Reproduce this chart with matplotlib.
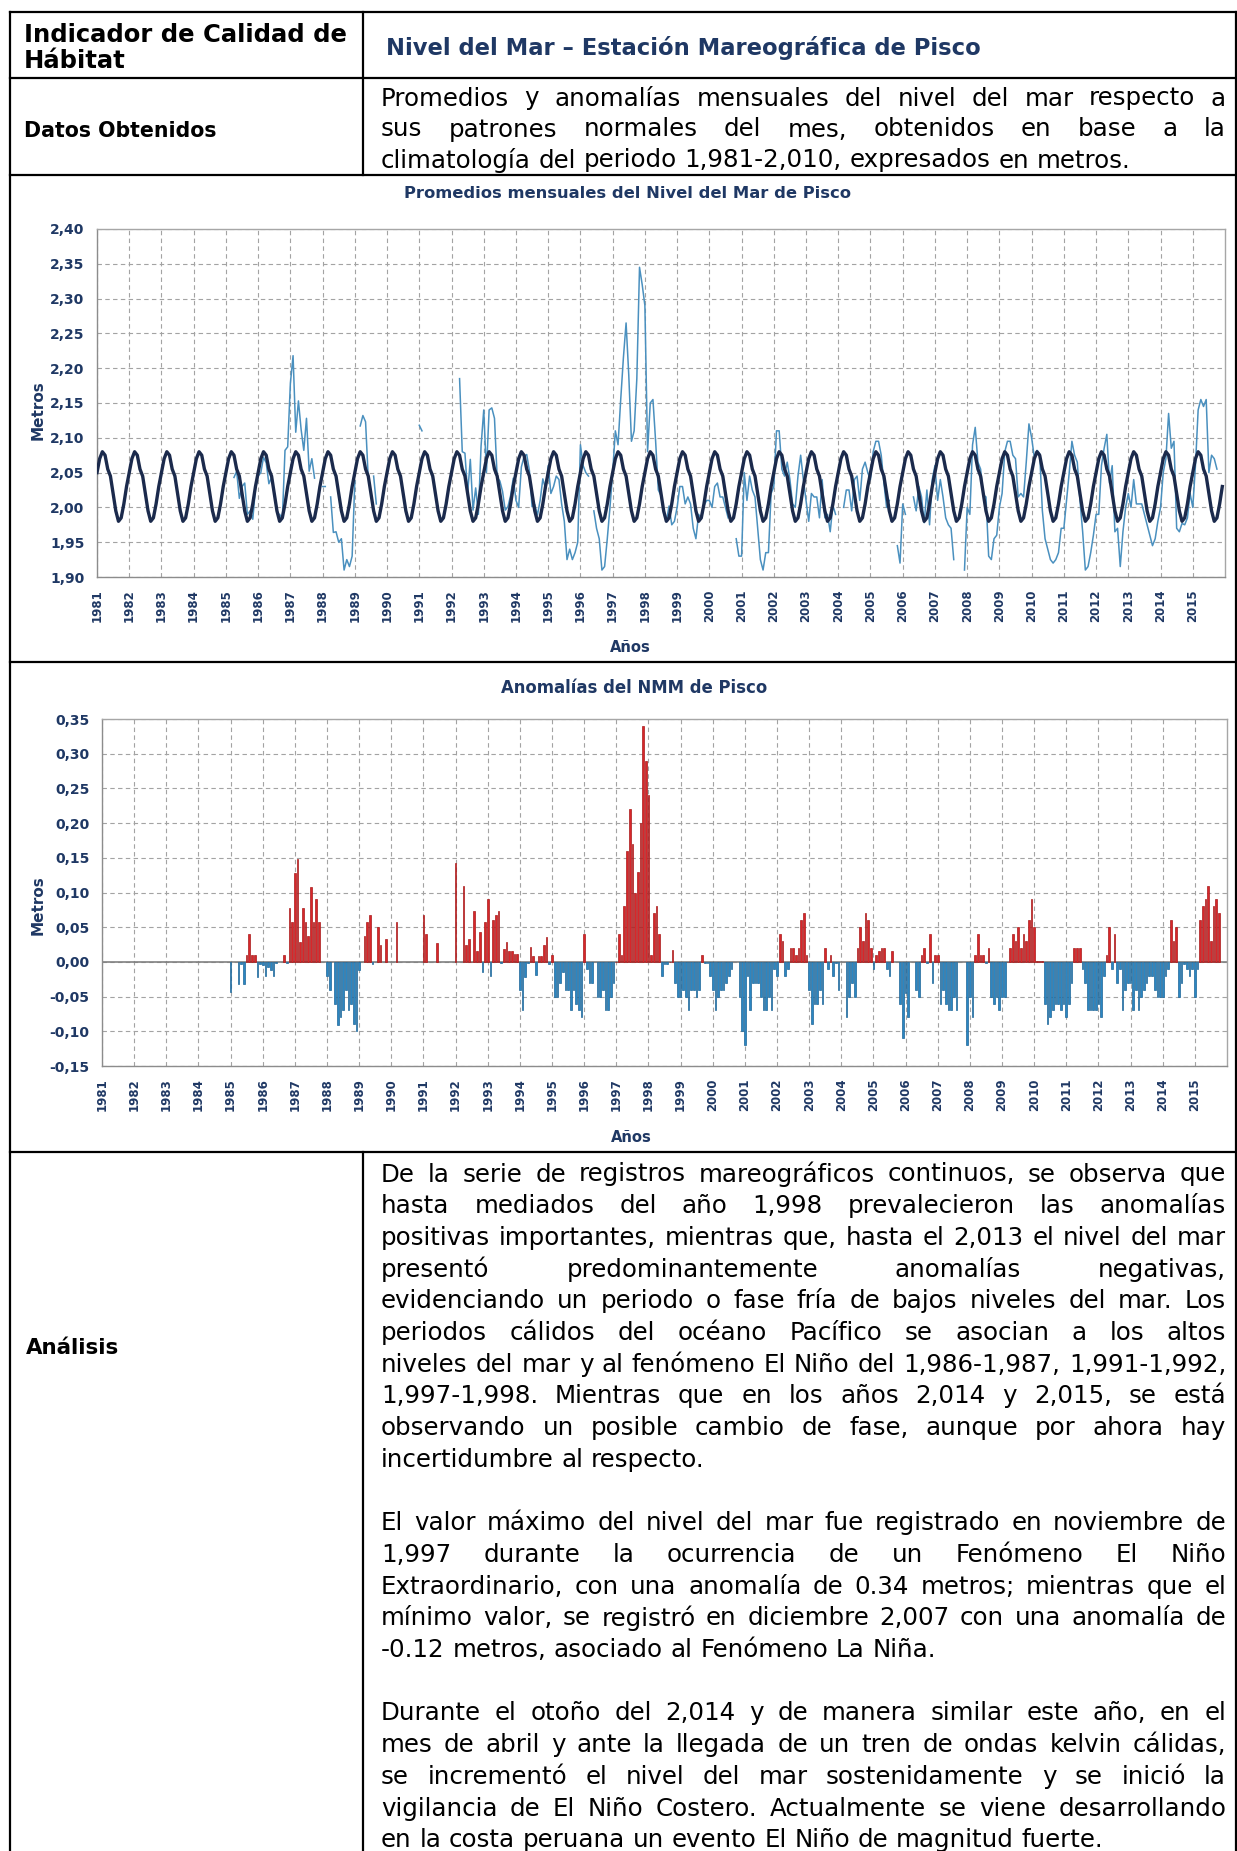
import numpy as np
import matplotlib
matplotlib.use("Agg")
import matplotlib.pyplot as plt
from matplotlib.lines import Line2D
from matplotlib.ticker import FixedLocator, FuncFormatter

nan = float("nan")

# ---------------- data ----------------
years = list(range(1981, 2016))
year_labels = [str(y) for y in years]
clim_monthly = [2.050, 2.070, 2.080, 2.075, 2.055, 2.045, 2.020, 1.995, 1.980, 1.985, 2.005, 2.030]
y1_ticks = [1.90, 1.95, 2.00, 2.05, 2.10, 2.15, 2.20, 2.25, 2.30, 2.35, 2.40]
y2_ticks = [-0.15, -0.10, -0.05, 0.00, 0.05, 0.10, 0.15, 0.20, 0.25, 0.30, 0.35]

# monthly anomalies (m), Jan..Dec; nan = no record
a1981 = [nan] * 12
a1982 = [nan] * 12
a1983 = [nan] * 12
a1984 = [nan] * 12
a1985 = [-0.044, nan, nan, -0.032, -0.003, -0.032, 0.010, 0.040, 0.010, 0.010, -0.022, -0.003]
a1986 = [-0.005, -0.020, -0.008, -0.011, -0.021, -0.002, nan, nan, 0.010, -0.002, 0.077, 0.057]
a1987 = [0.128, 0.148, 0.028, 0.078, 0.057, 0.037, 0.108, 0.057, 0.090, 0.057, nan, nan]
a1988 = [-0.020, -0.040, nan, -0.060, -0.091, -0.080, -0.070, -0.040, -0.070, -0.060, -0.090, -0.100]
a1989 = [-0.012, nan, 0.037, 0.057, 0.068, -0.003, nan, 0.050, 0.025, nan, 0.033, nan]
a1990 = [nan, nan, 0.058, nan, nan, nan, nan, nan, nan, nan, nan, nan]
a1991 = [0.068, 0.040, nan, nan, nan, 0.027, nan, nan, nan, nan, nan, nan]
a1992 = [0.142, nan, nan, 0.110, 0.025, 0.033, 0.000, 0.074, 0.016, 0.043, -0.015, 0.058]
a1993 = [0.090, -0.020, 0.060, 0.068, 0.073, -0.002, 0.018, 0.028, 0.016, 0.016, 0.012, 0.012]
a1994 = [-0.040, -0.070, -0.022, -0.002, 0.021, 0.008, -0.019, 0.009, 0.009, 0.025, 0.036, -0.003]
a1995 = [0.010, -0.050, -0.050, -0.030, -0.015, -0.040, -0.040, -0.070, -0.040, -0.060, -0.070, -0.080]
a1996 = [0.040, -0.010, -0.030, -0.030, nan, -0.050, -0.050, -0.040, -0.070, -0.070, -0.050, -0.030]
a1997 = [0.000, 0.040, 0.010, 0.080, 0.160, 0.220, 0.170, 0.100, 0.130, 0.200, 0.340, 0.290]
a1998 = [0.240, 0.010, 0.070, 0.080, 0.040, -0.020, -0.003, -0.003, 0.000, 0.017, -0.030, -0.050]
a1999 = [-0.050, -0.040, -0.050, -0.070, -0.040, -0.040, -0.050, -0.040, 0.010, -0.002, -0.002, -0.020]
a2000 = [-0.040, -0.070, -0.050, -0.040, -0.040, -0.030, -0.020, -0.010, nan, nan, -0.050, -0.100]
a2001 = [-0.120, -0.020, -0.070, -0.030, -0.030, -0.030, -0.050, -0.070, -0.070, -0.050, -0.070, -0.010]
a2002 = [-0.020, 0.040, 0.030, -0.020, -0.010, 0.020, 0.020, 0.010, 0.020, 0.060, 0.070, 0.010]
a2003 = [-0.040, -0.090, -0.060, -0.060, -0.040, -0.060, 0.020, -0.010, 0.010, -0.020, -0.002, -0.040]
a2004 = [nan, nan, -0.080, -0.050, -0.030, -0.050, 0.020, 0.050, 0.030, 0.070, 0.060, 0.020]
a2005 = [-0.010, 0.010, 0.015, 0.020, 0.020, -0.010, -0.020, 0.015, nan, nan, -0.060, -0.110]
a2006 = [-0.045, -0.080, nan, nan, -0.040, -0.050, 0.010, 0.020, -0.002, 0.040, -0.030, 0.010]
a2007 = [0.010, -0.060, -0.040, -0.060, -0.070, -0.070, -0.050, -0.070, nan, nan, nan, -0.120]
a2008 = [-0.050, -0.080, 0.010, 0.040, 0.010, 0.010, -0.002, 0.020, -0.050, -0.060, -0.050, -0.070]
a2009 = [-0.050, -0.050, 0.000, 0.020, 0.040, 0.030, 0.050, 0.020, 0.040, 0.030, 0.060, 0.090]
a2010 = [0.050, 0.002, 0.002, 0.002, -0.060, -0.090, -0.080, -0.070, -0.060, -0.060, -0.070, -0.060]
a2011 = [-0.080, -0.060, -0.030, 0.020, 0.020, 0.020, -0.010, -0.030, -0.070, -0.070, -0.070, -0.070]
a2012 = [-0.060, -0.080, -0.020, 0.010, 0.050, -0.010, 0.040, -0.030, -0.010, -0.070, -0.040, -0.030]
a2013 = [-0.030, -0.070, -0.040, -0.070, -0.050, -0.040, -0.030, -0.020, -0.020, -0.040, -0.050, -0.050]
a2014 = [-0.050, -0.020, -0.010, 0.060, 0.030, 0.050, -0.050, -0.030, -0.003, -0.010, -0.020, -0.010]
a2015 = [-0.050, -0.010, 0.060, 0.080, 0.090, 0.110, 0.030, 0.080, 0.090, 0.070, nan, nan]

anom_by_year = [a1981, a1982, a1983, a1984, a1985, a1986, a1987, a1988, a1989, a1990,
                a1991, a1992, a1993, a1994, a1995, a1996, a1997, a1998, a1999, a2000,
                a2001, a2002, a2003, a2004, a2005, a2006, a2007, a2008, a2009, a2010,
                a2011, a2012, a2013, a2014, a2015]

header_left = ["Indicador de Calidad de", "Hábitat"]
header_right = "Nivel del Mar – Estación Mareográfica de Pisco"
datos_label = "Datos Obtenidos"
datos_lines = ["Promedios y anomalías mensuales del nivel del mar respecto a",
               "sus patrones normales del mes, obtenidos en base a la",
               "climatología del periodo 1,981-2,010, expresados en metros."]
title1 = "Promedios mensuales del Nivel del Mar de Pisco"
title2 = "Anomalías del NMM de Pisco"
analisis_label = "Análisis"
analisis_paragraphs = [
    ["De la serie de registros mareográficos continuos, se observa que",
     "hasta mediados del año 1,998 prevalecieron las anomalías",
     "positivas importantes, mientras que, hasta el 2,013 el nivel del mar",
     "presentó predominantemente anomalías negativas,",
     "evidenciando un periodo o fase fría de bajos niveles del mar. Los",
     "periodos cálidos del océano Pacífico se asocian a los altos",
     "niveles del mar y al fenómeno El Niño del 1,986-1,987, 1,991-1,992,",
     "1,997-1,998. Mientras que en los años 2,014 y 2,015, se está",
     "observando un posible cambio de fase, aunque por ahora hay",
     "incertidumbre al respecto."],
    ["El valor máximo del nivel del mar fue registrado en noviembre de",
     "1,997 durante la ocurrencia de un Fenómeno El Niño",
     "Extraordinario, con una anomalía de 0.34 metros; mientras que el",
     "mínimo valor, se registró en diciembre 2,007 con una anomalía de",
     "-0.12 metros, asociado al Fenómeno La Niña."],
    ["Durante el otoño del 2,014 y de manera similar este año, en el",
     "mes de abril y ante la llegada de un tren de ondas kelvin cálidas,",
     "se incrementó el nivel del mar sostenidamente y se inició la",
     "vigilancia de El Niño Costero. Actualmente se viene desarrollando",
     "en la costa peruana un evento El Niño de magnitud fuerte."],
]

# ---------------- derived series ----------------
anomaly = np.array([v for yr in anom_by_year for v in yr], dtype=float)
t = np.array([y + m / 12.0 for y in years for m in range(12)])
clim_series = np.tile(np.array(clim_monthly), len(years))
observed = clim_series + anomaly

# ---------------- figure ----------------
W, H = 1237, 1851
FONT = "DejaVu Sans"
NAVY = "#1F3864"
plt.rcParams["font.family"] = [FONT]

fig = plt.figure(figsize=(W / 100, H / 100), dpi=100)
fig.patch.set_facecolor("white")
renderer = fig.canvas.get_renderer()


def fx(x):
    return x / W


def fy(y):
    return 1 - y / H


def twidth(s, size, weight="normal"):
    tt = fig.text(0, 0, s, fontsize=size, fontweight=weight)
    w = tt.get_window_extent(renderer).width
    tt.remove()
    return w


def fit(s, target, weight="normal"):
    return 20.0 * target / twidth(s, 20, weight)


def space_w(size, weight="normal"):
    return twidth("a a", size, weight) - twidth("aa", size, weight)


def draw_line(line, x0, x1, y, size, justify=True, color="black", weight="normal"):
    words = line.split(" ")
    widths = [twidth(w, size, weight) for w in words]
    if justify and len(words) > 1:
        gap = (x1 - x0 - sum(widths)) / (len(words) - 1)
    else:
        gap = space_w(size, weight)
    x = x0
    for w, wd in zip(words, widths):
        fig.text(fx(x), fy(y), w, fontsize=size, fontweight=weight, color=color,
                 ha="left", va="center_baseline")
        x += wd + gap


# ---------------- table lines ----------------
LW = 1.6
L, R, TOP = 10, 1235.5, 12
DIV = 363


def hline(y, x0=L, x1=R):
    fig.add_artist(Line2D([fx(x0), fx(x1)], [fy(y), fy(y)], transform=fig.transFigure,
                          color="black", lw=LW, solid_capstyle="projecting"))


def vline(x, y0, y1):
    fig.add_artist(Line2D([fx(x), fx(x)], [fy(y0), fy(y1)], transform=fig.transFigure,
                          color="black", lw=LW, solid_capstyle="projecting"))


hline(TOP)
hline(78)
hline(175)
hline(662)
hline(1152)
vline(L, TOP, H + 5)
vline(R, TOP, H + 5)
vline(DIV, TOP, 175)
vline(DIV, 1152, H + 5)

# ---------------- header text ----------------
s_hl = fit(header_left[0], 323, "bold")
fig.text(fx(24), fy(32), header_left[0], fontsize=s_hl, fontweight="bold", ha="left", va="center_baseline")
fig.text(fx(24), fy(58), header_left[1], fontsize=s_hl, fontweight="bold", ha="left", va="center_baseline")
s_hr = fit(header_right, 596, "bold")
fig.text(fx(386), fy(46), header_right, fontsize=s_hr, fontweight="bold", color=NAVY,
         ha="left", va="center_baseline")
s_dl = fit(datos_label, 193, "bold")
fig.text(fx(24), fy(129), datos_label, fontsize=s_dl, fontweight="bold", ha="left", va="center_baseline")

# body font size: widest justified line fills the column
TX0, TX1 = 381, 1226
just_lines = datos_lines[:-1] + [ln for p in analisis_paragraphs for ln in p[:-1]]
nat = [sum(twidth(w, 20) for w in ln.split(" ")) + (len(ln.split(" ")) - 1) * space_w(20)
       for ln in just_lines]
s_body = 20.0 * (TX1 - TX0) / max(nat) * 0.995

for i, ln in enumerate(datos_lines):
    draw_line(ln, TX0, TX1, 96 + i * 31.0, s_body, justify=(i < len(datos_lines) - 1))

s_an = fit(analisis_label, 94, "bold")
fig.text(fx(26), fy(1346), analisis_label, fontsize=s_an, fontweight="bold", ha="left", va="center_baseline")

slot = 0
Y0, PITCH = 1172, 31.7
for p in analisis_paragraphs:
    for j, ln in enumerate(p):
        draw_line(ln, TX0, TX1, Y0 + slot * PITCH, s_body, justify=(j < len(p) - 1))
        slot += 1
    slot += 1

# ---------------- chart helpers ----------------
GRID_C = "#a3a3a3"
SPINE_C = "#a6a6a6"


def style_axes(ax, yticks):
    ax.set_xlim(1981, 2016)
    ax.set_ylim(yticks[0], yticks[-1])
    ax.xaxis.set_major_locator(FixedLocator(years))
    ax.set_xticklabels(year_labels, rotation=90, fontsize=8.5, fontweight="bold", color=NAVY)
    ax.yaxis.set_major_locator(FixedLocator(yticks))
    ax.yaxis.set_major_formatter(FuncFormatter(lambda v, p: ("%.2f" % v).replace(".", ",")))
    ax.tick_params(axis="x", length=0, pad=9)
    ax.tick_params(axis="y", length=0, pad=9, labelsize=10, labelcolor=NAVY)
    for lab in ax.get_yticklabels():
        lab.set_fontweight("bold")
    ax.grid(True, linestyle=(0, (4, 3)), color=GRID_C, lw=0.8)
    ax.set_axisbelow(True)
    for sp in ax.spines.values():
        sp.set_color(SPINE_C)
        sp.set_linewidth(1.0)
    ax.spines["left"].set_color("#8c8c8c")
    ax.spines["bottom"].set_color("#8c8c8c")


# ---------------- chart 1 ----------------
ax1 = fig.add_axes([fx(97), fy(577), (1225 - 97) / W, (577 - 229) / H])
ax1.plot(t, observed, color="#4a90bf", lw=1.1, zorder=3)
ax1.plot(t, clim_series, color="#1b2a4c", lw=2.4, zorder=4)
style_axes(ax1, y1_ticks)

s_t1 = fit(title1, 447, "bold")
fig.text(fx(627), fy(194), title1, fontsize=s_t1, fontweight="bold", color=NAVY, ha="center", va="center")
s_met = fit("Metros", 60, "bold")
fig.text(fx(38), fy(410), "Metros", fontsize=s_met, fontweight="bold", color=NAVY,
         rotation=90, ha="center", va="center")
s_anos = fit("Años", 41, "bold")
fig.text(fx(630), fy(647), "Años", fontsize=s_anos, fontweight="bold", color=NAVY, ha="center", va="center")

# ---------------- chart 2 ----------------
ax2 = fig.add_axes([fx(102), fy(1066), (1227 - 102) / W, (1066 - 719) / H])
mask = ~np.isnan(anomaly)
pos = anomaly >= 0
face = np.where(pos, "#d8262a", "#2b86c2")
edge = np.where(pos, "#a81a1a", "#1d6597")
ax2.bar(t[mask], anomaly[mask], width=0.62 / 12, color=face[mask], edgecolor=edge[mask],
        linewidth=0.5, zorder=3)
ax2.axhline(0, color="#808080", lw=1.2, zorder=2)
style_axes(ax2, y2_ticks)

s_t2 = fit(title2, 267, "bold")
fig.text(fx(634), fy(688), title2, fontsize=s_t2, fontweight="bold", color=NAVY, ha="center", va="center")
fig.text(fx(38), fy(905), "Metros", fontsize=s_met, fontweight="bold", color=NAVY,
         rotation=90, ha="center", va="center")
fig.text(fx(631), fy(1137), "Años", fontsize=s_anos, fontweight="bold", color=NAVY, ha="center", va="center")

fig.savefig("out.png", dpi=100, facecolor="white")
